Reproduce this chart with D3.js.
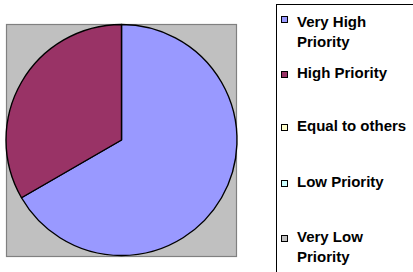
<!DOCTYPE html>
<html><head><meta charset="utf-8">
<script src="https://cdn.jsdelivr.net/npm/d3@7"></script>
<style>body{margin:0;background:#fff}svg{display:block}</style>
</head><body>
<script>
const categories = ["Very High Priority","High Priority","Equal to others","Low Priority","Very Low Priority"];
const legendLines = [["Very High","Priority"],["High Priority"],["Equal to others"],["Low Priority"],["Very Low","Priority"]];
const values = [2, 1, 0, 0, 0];
const colors = ["#9999FF","#993366","#FFFFCC","#CCFFFF","#C0C0C0"];

const W = 413, H = 272;
const svg = d3.select("body").append("svg").attr("width", W).attr("height", H);

// plot area
svg.append("rect").attr("x", 6.5).attr("y", 24.5).attr("width", 230).attr("height", 232)
  .attr("fill", "#C0C0C0").attr("stroke", "#808080").attr("stroke-width", 1.2);

const cx = 121.5, cy = 140, r = 115.5;
const pie = d3.pie().sort(null).value(d => d)(values);
const arc = d3.arc().innerRadius(0).outerRadius(r);
const color = d3.scaleOrdinal().domain(categories).range(colors);
svg.append("g").attr("transform", `translate(${cx},${cy})`)
  .selectAll("path").data(pie.filter(d => d.value > 0)).join("path")
  .attr("d", arc).attr("fill", (d) => color(categories[d.index]))
  .attr("stroke", "#000").attr("stroke-width", 1.4).attr("stroke-linejoin", "round");

// legend
svg.append("rect").attr("x", 276.5).attr("y", 4.5).attr("width", 200).attr("height", 300)
  .attr("fill", "#fff").attr("stroke", "#000").attr("stroke-width", 1);

const markerY = [16.5, 71.5, 124.5, 180.5, 235.5];
const textY = [27, 78, 131, 187, 242];
const lg = svg.append("g");
categories.forEach((c, i) => {
  lg.append("rect").attr("x", 281.5).attr("y", markerY[i]).attr("width", 6).attr("height", 6)
    .attr("fill", color(c)).attr("stroke", "#000").attr("stroke-width", 1);
  const t = lg.append("text").attr("x", 297).attr("y", textY[i])
    .attr("font-family", "Liberation Sans, Arial, sans-serif").attr("font-weight", "bold")
    .attr("font-size", 15).attr("fill", "#000");
  legendLines[i].forEach((ln, j) => {
    t.append("tspan").attr("x", 297).attr("dy", j === 0 ? 0 : 20).text(ln);
  });
});
</script>
</body></html>
